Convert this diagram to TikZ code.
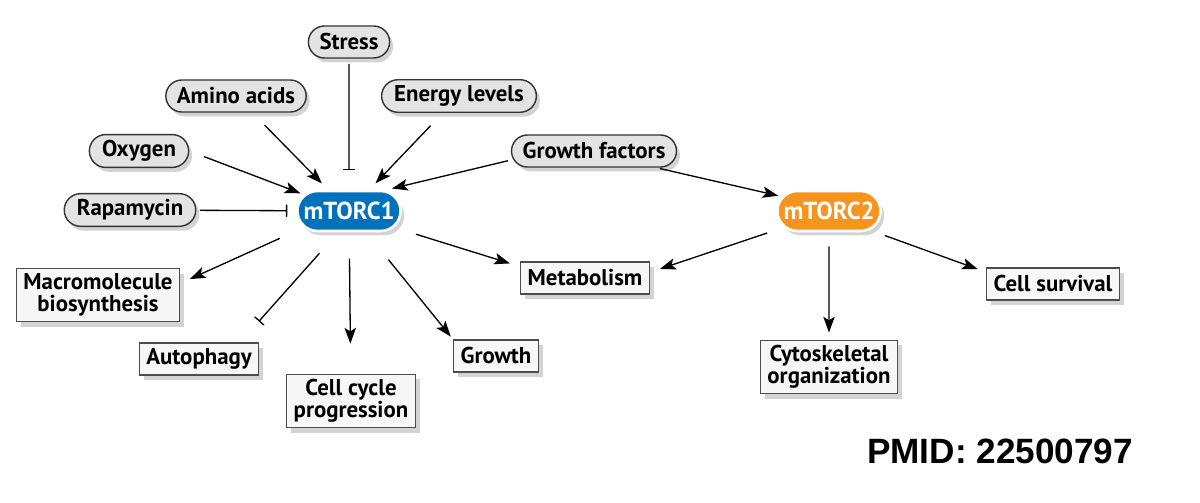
\documentclass[tikz,border=0pt]{standalone}
\usepackage{fontspec}
\setmainfont{PT Sans}
\newfontfamily\pmidfont{Liberation Sans}
\usetikzlibrary{shapes.misc,shadows,arrows.meta}
\definecolor{torcblue}{RGB}{0,114,188}
\definecolor{torcorange}{RGB}{247,148,29}
\begin{document}
\begin{tikzpicture}[x=.02cm, y=-.02cm,
		sigpill/.style={rounded rectangle, draw=black!80, line width=.8pt, fill=gray!22, minimum height=.64cm, inner xsep=5pt, font=\fontsize{13}{13}\selectfont\bfseries, drop shadow={opacity=.35, shadow xshift=2pt, shadow yshift=-2.5pt}},
		outbox/.style={rectangle, draw=black!70, line width=.7pt, fill=gray!6, minimum height=.64cm, inner xsep=4pt, inner ysep=3pt, align=center, font=\fontsize{13}{12.5}\selectfont\bfseries, drop shadow={opacity=.35, shadow xshift=2.5pt, shadow yshift=-3pt}},
		cplx/.style={rounded rectangle, draw=white, line width=1.5pt, text=white, minimum width=2.3cm, minimum height=.8cm, font=\fontsize{14}{14}\selectfont\bfseries, drop shadow={opacity=.35, shadow xshift=2pt, shadow yshift=-2.5pt}},
		act/.style={-{Stealth[length=9pt,width=6.5pt,inset=2pt]}, line width=.75pt},
		inh/.style={-{Bar[width=7pt]}, line width=.75pt}]
		\useasboundingbox (0,0) rectangle (1200,503);
		% inputs
		\node[sigpill] (str) at (349,42) {Stress};
		\node[sigpill] (ami) at (236,96) {Amino acids};
		\node[sigpill] (ene) at (459,96) {Energy levels};
		\node[sigpill] (oxy) at (139,151) {Oxygen};
		\node[sigpill] (gf) at (594,151) {Growth factors};
		\node[sigpill] (rap) at (130,210) {Rapamycin};
		% complexes
		\node[cplx, fill=torcblue] (m1) at (349,211) {mTORC1};
		\node[cplx, fill=torcorange] (m2) at (829,211) {mTORC2};
		% outputs
		\node[outbox] (mac) at (98,295) {Macromolecule\\biosynthesis};
		\node[outbox] (met) at (585,278) {Metabolism};
		\node[outbox] (aut) at (199,359) {Autophagy};
		\node[outbox] (grw) at (496,356) {Growth};
		\node[outbox] (ccp) at (351,401) {Cell cycle\\progression};
		\node[outbox] (cyt) at (829,367) {Cytoskeletal\\organization};
		\node[outbox] (cs) at (1053,284) {Cell survival};
		\node[font=\pmidfont\bfseries\fontsize{20}{22}\selectfont] (pmid) at (1000,451) {PMID: 22500797};
		% signals into mTORC1 / mTORC2
		\draw[act, shorten <=9pt, shorten >=2pt] (oxy.east) -- (m1.160);
		\draw[act, shorten <=10pt, shorten >=5pt] (ami) -- (m1);
		\draw[inh, shorten <=3pt, shorten >=11pt] (str) -- (m1);
		\draw[act, shorten <=10pt, shorten >=5pt] (ene) -- (m1);
		\draw[act, shorten <=3pt, shorten >=4pt] (gf.186) -- (m1.30);
		\draw[inh, shorten <=2pt, shorten >=5pt] (rap) -- (m1);
		\draw[act, shorten <=2pt, shorten >=2pt] (gf.-15) -- (m2.163);
		% outcomes
		\draw[act, shorten <=15pt, shorten >=6pt] (m1.200) -- (mac.8);
		\draw[inh, shorten <=16pt, shorten >=16pt] (m1.243) -- (aut.22);
		\draw[act, shorten <=15pt, shorten >=17pt] (m1) -- (ccp);
		\draw[act, shorten <=20pt, shorten >=2pt] (m1) -- (grw.north west);
		\draw[act, shorten <=13pt, shorten >=6pt] (m1.-20) -- (met.170);
		\draw[act, shorten <=10pt, shorten >=6pt] (m2.200) -- (met.5);
		\draw[act, shorten <=8pt, shorten >=4pt] (m2) -- (cyt);
		\draw[act, shorten <=9pt, shorten >=5pt] (m2.-25) -- (cs.170);
	\end{tikzpicture}
\end{document}
